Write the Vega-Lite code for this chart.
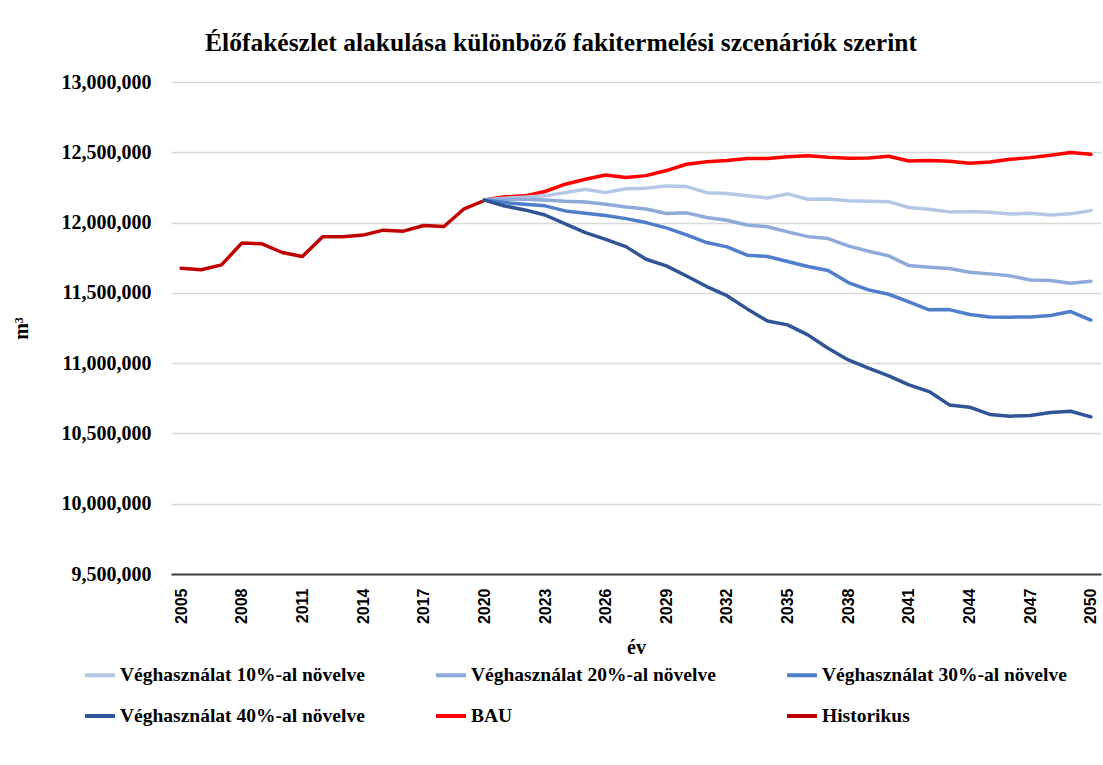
{
  "$schema": "https://vega.github.io/schema/vega-lite/v6.json",
  "autosize": {"type": "none"},
  "width": 930,
  "height": 492,
  "padding": {"left": 171, "top": 82, "right": 2, "bottom": 191},
  "background": "white",
  "title": {
    "text": "Élőfakészlet alakulása különböző fakitermelési szcenáriók szerint",
    "font": "Liberation Serif",
    "fontSize": 25.5,
    "fontWeight": "bold",
    "color": "#000000",
    "anchor": "middle",
    "frame": "group",
    "dx": -75,
    "offset": 16
  },
  "data": {"values": [
    {"year":2005,"series":"Historikus","value":11675000},
    {"year":2006,"series":"Historikus","value":11664000},
    {"year":2007,"series":"Historikus","value":11699000},
    {"year":2008,"series":"Historikus","value":11854000},
    {"year":2009,"series":"Historikus","value":11849000},
    {"year":2010,"series":"Historikus","value":11787000},
    {"year":2011,"series":"Historikus","value":11759000},
    {"year":2012,"series":"Historikus","value":11899000},
    {"year":2013,"series":"Historikus","value":11899000},
    {"year":2014,"series":"Historikus","value":11911000},
    {"year":2015,"series":"Historikus","value":11946000},
    {"year":2016,"series":"Historikus","value":11939000},
    {"year":2017,"series":"Historikus","value":11979000},
    {"year":2018,"series":"Historikus","value":11972000},
    {"year":2019,"series":"Historikus","value":12098000},
    {"year":2020,"series":"Historikus","value":12157000},

    {"year":2020,"series":"BAU","value":12160000},
    {"year":2021,"series":"BAU","value":12183000},
    {"year":2022,"series":"BAU","value":12190000},
    {"year":2023,"series":"BAU","value":12221000},
    {"year":2024,"series":"BAU","value":12273000},
    {"year":2025,"series":"BAU","value":12308000},
    {"year":2026,"series":"BAU","value":12339000},
    {"year":2027,"series":"BAU","value":12320000},
    {"year":2028,"series":"BAU","value":12334000},
    {"year":2029,"series":"BAU","value":12370000},
    {"year":2030,"series":"BAU","value":12415000},
    {"year":2031,"series":"BAU","value":12432000},
    {"year":2032,"series":"BAU","value":12441000},
    {"year":2033,"series":"BAU","value":12455000},
    {"year":2034,"series":"BAU","value":12455000},
    {"year":2035,"series":"BAU","value":12469000},
    {"year":2036,"series":"BAU","value":12476000},
    {"year":2037,"series":"BAU","value":12464000},
    {"year":2038,"series":"BAU","value":12457000},
    {"year":2039,"series":"BAU","value":12460000},
    {"year":2040,"series":"BAU","value":12472000},
    {"year":2041,"series":"BAU","value":12438000},
    {"year":2042,"series":"BAU","value":12441000},
    {"year":2043,"series":"BAU","value":12436000},
    {"year":2044,"series":"BAU","value":12422000},
    {"year":2045,"series":"BAU","value":12431000},
    {"year":2046,"series":"BAU","value":12450000},
    {"year":2047,"series":"BAU","value":12462000},
    {"year":2048,"series":"BAU","value":12479000},
    {"year":2049,"series":"BAU","value":12498000},
    {"year":2050,"series":"BAU","value":12486000},

    {"year":2020,"series":"Véghasználat 10%-al növelve","value":12160000},
    {"year":2021,"series":"Véghasználat 10%-al növelve","value":12173000},
    {"year":2022,"series":"Véghasználat 10%-al növelve","value":12180000},
    {"year":2023,"series":"Véghasználat 10%-al növelve","value":12190000},
    {"year":2024,"series":"Véghasználat 10%-al növelve","value":12213000},
    {"year":2025,"series":"Véghasználat 10%-al növelve","value":12237000},
    {"year":2026,"series":"Véghasználat 10%-al növelve","value":12213000},
    {"year":2027,"series":"Véghasználat 10%-al növelve","value":12240000},
    {"year":2028,"series":"Véghasználat 10%-al növelve","value":12244000},
    {"year":2029,"series":"Véghasználat 10%-al növelve","value":12261000},
    {"year":2030,"series":"Véghasználat 10%-al növelve","value":12256000},
    {"year":2031,"series":"Véghasználat 10%-al növelve","value":12213000},
    {"year":2032,"series":"Véghasználat 10%-al növelve","value":12206000},
    {"year":2033,"series":"Véghasználat 10%-al növelve","value":12190000},
    {"year":2034,"series":"Véghasználat 10%-al növelve","value":12175000},
    {"year":2035,"series":"Véghasználat 10%-al növelve","value":12204000},
    {"year":2036,"series":"Véghasználat 10%-al növelve","value":12166000},
    {"year":2037,"series":"Véghasználat 10%-al növelve","value":12168000},
    {"year":2038,"series":"Véghasználat 10%-al növelve","value":12156000},
    {"year":2039,"series":"Véghasználat 10%-al növelve","value":12152000},
    {"year":2040,"series":"Véghasználat 10%-al növelve","value":12149000},
    {"year":2041,"series":"Véghasználat 10%-al növelve","value":12107000},
    {"year":2042,"series":"Véghasználat 10%-al növelve","value":12095000},
    {"year":2043,"series":"Véghasználat 10%-al növelve","value":12076000},
    {"year":2044,"series":"Véghasználat 10%-al növelve","value":12078000},
    {"year":2045,"series":"Véghasználat 10%-al növelve","value":12073000},
    {"year":2046,"series":"Véghasználat 10%-al növelve","value":12061000},
    {"year":2047,"series":"Véghasználat 10%-al növelve","value":12066000},
    {"year":2048,"series":"Véghasználat 10%-al növelve","value":12054000},
    {"year":2049,"series":"Véghasználat 10%-al növelve","value":12062000},
    {"year":2050,"series":"Véghasználat 10%-al növelve","value":12085000},

    {"year":2020,"series":"Véghasználat 20%-al növelve","value":12160000},
    {"year":2021,"series":"Véghasználat 20%-al növelve","value":12166000},
    {"year":2022,"series":"Véghasználat 20%-al növelve","value":12166000},
    {"year":2023,"series":"Véghasználat 20%-al növelve","value":12161000},
    {"year":2024,"series":"Véghasználat 20%-al növelve","value":12152000},
    {"year":2025,"series":"Véghasználat 20%-al növelve","value":12147000},
    {"year":2026,"series":"Véghasználat 20%-al növelve","value":12130000},
    {"year":2027,"series":"Véghasználat 20%-al növelve","value":12111000},
    {"year":2028,"series":"Véghasználat 20%-al növelve","value":12097000},
    {"year":2029,"series":"Véghasználat 20%-al növelve","value":12064000},
    {"year":2030,"series":"Véghasználat 20%-al növelve","value":12069000},
    {"year":2031,"series":"Véghasználat 20%-al növelve","value":12036000},
    {"year":2032,"series":"Véghasználat 20%-al növelve","value":12017000},
    {"year":2033,"series":"Véghasználat 20%-al növelve","value":11983000},
    {"year":2034,"series":"Véghasználat 20%-al növelve","value":11970000},
    {"year":2035,"series":"Véghasználat 20%-al növelve","value":11934000},
    {"year":2036,"series":"Véghasználat 20%-al növelve","value":11900000},
    {"year":2037,"series":"Véghasználat 20%-al növelve","value":11886000},
    {"year":2038,"series":"Véghasználat 20%-al növelve","value":11834000},
    {"year":2039,"series":"Véghasználat 20%-al növelve","value":11796000},
    {"year":2040,"series":"Véghasználat 20%-al növelve","value":11763000},
    {"year":2041,"series":"Véghasználat 20%-al növelve","value":11694000},
    {"year":2042,"series":"Véghasználat 20%-al növelve","value":11682000},
    {"year":2043,"series":"Véghasználat 20%-al növelve","value":11673000},
    {"year":2044,"series":"Véghasználat 20%-al növelve","value":11647000},
    {"year":2045,"series":"Véghasználat 20%-al növelve","value":11635000},
    {"year":2046,"series":"Véghasználat 20%-al növelve","value":11621000},
    {"year":2047,"series":"Véghasználat 20%-al növelve","value":11592000},
    {"year":2048,"series":"Véghasználat 20%-al növelve","value":11588000},
    {"year":2049,"series":"Véghasználat 20%-al növelve","value":11569000},
    {"year":2050,"series":"Véghasználat 20%-al növelve","value":11583000},

    {"year":2020,"series":"Véghasználat 30%-al növelve","value":12160000},
    {"year":2021,"series":"Véghasználat 30%-al növelve","value":12142000},
    {"year":2022,"series":"Véghasználat 30%-al növelve","value":12130000},
    {"year":2023,"series":"Véghasználat 30%-al növelve","value":12119000},
    {"year":2024,"series":"Véghasználat 30%-al növelve","value":12083000},
    {"year":2025,"series":"Véghasználat 30%-al növelve","value":12066000},
    {"year":2026,"series":"Véghasználat 30%-al növelve","value":12050000},
    {"year":2027,"series":"Véghasználat 30%-al növelve","value":12028000},
    {"year":2028,"series":"Véghasználat 30%-al növelve","value":12000000},
    {"year":2029,"series":"Véghasználat 30%-al növelve","value":11962000},
    {"year":2030,"series":"Véghasználat 30%-al növelve","value":11913000},
    {"year":2031,"series":"Véghasználat 30%-al növelve","value":11858000},
    {"year":2032,"series":"Véghasználat 30%-al növelve","value":11827000},
    {"year":2033,"series":"Véghasználat 30%-al növelve","value":11768000},
    {"year":2034,"series":"Véghasználat 30%-al növelve","value":11759000},
    {"year":2035,"series":"Véghasználat 30%-al növelve","value":11723000},
    {"year":2036,"series":"Véghasználat 30%-al növelve","value":11687000},
    {"year":2037,"series":"Véghasználat 30%-al növelve","value":11659000},
    {"year":2038,"series":"Véghasználat 30%-al növelve","value":11573000},
    {"year":2039,"series":"Véghasználat 30%-al növelve","value":11521000},
    {"year":2040,"series":"Véghasználat 30%-al növelve","value":11490000},
    {"year":2041,"series":"Véghasználat 30%-al növelve","value":11436000},
    {"year":2042,"series":"Véghasználat 30%-al növelve","value":11379000},
    {"year":2043,"series":"Véghasználat 30%-al növelve","value":11381000},
    {"year":2044,"series":"Véghasználat 30%-al növelve","value":11346000},
    {"year":2045,"series":"Véghasználat 30%-al növelve","value":11329000},
    {"year":2046,"series":"Véghasználat 30%-al növelve","value":11327000},
    {"year":2047,"series":"Véghasználat 30%-al növelve","value":11329000},
    {"year":2048,"series":"Véghasználat 30%-al növelve","value":11339000},
    {"year":2049,"series":"Véghasználat 30%-al növelve","value":11367000},
    {"year":2050,"series":"Véghasználat 30%-al növelve","value":11306000},

    {"year":2020,"series":"Véghasználat 40%-al növelve","value":12160000},
    {"year":2021,"series":"Véghasználat 40%-al növelve","value":12118000},
    {"year":2022,"series":"Véghasználat 40%-al növelve","value":12090000},
    {"year":2023,"series":"Véghasználat 40%-al növelve","value":12054000},
    {"year":2024,"series":"Véghasználat 40%-al növelve","value":11991000},
    {"year":2025,"series":"Véghasználat 40%-al növelve","value":11929000},
    {"year":2026,"series":"Véghasználat 40%-al növelve","value":11881000},
    {"year":2027,"series":"Véghasználat 40%-al növelve","value":11829000},
    {"year":2028,"series":"Véghasználat 40%-al növelve","value":11739000},
    {"year":2029,"series":"Véghasználat 40%-al növelve","value":11692000},
    {"year":2030,"series":"Véghasználat 40%-al növelve","value":11620000},
    {"year":2031,"series":"Véghasználat 40%-al növelve","value":11545000},
    {"year":2032,"series":"Véghasználat 40%-al növelve","value":11480000},
    {"year":2033,"series":"Véghasználat 40%-al növelve","value":11386000},
    {"year":2034,"series":"Véghasználat 40%-al növelve","value":11300000},
    {"year":2035,"series":"Véghasználat 40%-al növelve","value":11272000},
    {"year":2036,"series":"Véghasználat 40%-al növelve","value":11201000},
    {"year":2037,"series":"Véghasználat 40%-al növelve","value":11106000},
    {"year":2038,"series":"Véghasználat 40%-al növelve","value":11023000},
    {"year":2039,"series":"Véghasználat 40%-al növelve","value":10964000},
    {"year":2040,"series":"Véghasználat 40%-al növelve","value":10910000},
    {"year":2041,"series":"Véghasználat 40%-al növelve","value":10846000},
    {"year":2042,"series":"Véghasználat 40%-al növelve","value":10798000},
    {"year":2043,"series":"Véghasználat 40%-al növelve","value":10703000},
    {"year":2044,"series":"Véghasználat 40%-al növelve","value":10687000},
    {"year":2045,"series":"Véghasználat 40%-al növelve","value":10635000},
    {"year":2046,"series":"Véghasználat 40%-al növelve","value":10623000},
    {"year":2047,"series":"Véghasználat 40%-al növelve","value":10628000},
    {"year":2048,"series":"Véghasználat 40%-al növelve","value":10649000},
    {"year":2049,"series":"Véghasználat 40%-al növelve","value":10658000},
    {"year":2050,"series":"Véghasználat 40%-al növelve","value":10618000}
  ]},
  "mark": {"type": "line", "strokeWidth": 3.5, "strokeCap": "round", "strokeJoin": "round"},
  "encoding": {
    "x": {
      "field": "year",
      "type": "quantitative",
      "scale": {"domain": [2004.5, 2050.5], "nice": false, "zero": false},
      "axis": {
        "title": "év",
        "values": [2005,2008,2011,2014,2017,2020,2023,2026,2029,2032,2035,2038,2041,2044,2047,2050],
        "format": "d",
        "labelAngle": -90,
        "labelAlign": "right",
        "labelBaseline": "middle",
        "labelFont": "Liberation Sans",
        "labelFontSize": 16,
        "labelFontWeight": "bold",
        "labelColor": "#000000",
        "labelPadding": 14,
        "ticks": false,
        "grid": false,
        "domain": true,
        "domainColor": "#404040",
        "domainWidth": 2,
        "titleFont": "Liberation Serif",
        "titleFontSize": 20,
        "titleFontWeight": "bold",
        "titleColor": "#000000",
        "titlePadding": 14
      }
    },
    "y": {
      "field": "value",
      "type": "quantitative",
      "scale": {"domain": [9500000, 13000000], "nice": false, "zero": false},
      "axis": {
        "title": "m³",
        "values": [9500000,10000000,10500000,11000000,11500000,12000000,12500000,13000000],
        "format": ",d",
        "labelFont": "Liberation Serif",
        "labelFontSize": 20,
        "labelFontWeight": "bold",
        "labelColor": "#000000",
        "labelPadding": 20,
        "ticks": false,
        "domain": false,
        "grid": true,
        "gridColor": "#d9d9d9",
        "gridWidth": 1.5,
        "titleFont": "Liberation Serif",
        "titleFontSize": 20,
        "titleFontWeight": "bold",
        "titleColor": "#000000",
        "titlePadding": 30
      }
    },
    "color": {
      "field": "series",
      "type": "nominal",
      "scale": {
        "domain": ["Véghasználat 10%-al növelve","Véghasználat 20%-al növelve","Véghasználat 30%-al növelve","Véghasználat 40%-al növelve","BAU","Historikus"],
        "range": ["#b4c7e7","#8eaadb","#4f7ecb","#2f5597","#ff0000","#c00000"]
      },
      "legend": {
        "title": null,
        "orient": "none",
        "legendX": -88,
        "legendY": 576,
        "direction": "horizontal",
        "columns": 3,
        "gridAlign": "all",
        "columnPadding": 63,
        "rowPadding": 14,
        "symbolType": "stroke",
        "symbolStrokeWidth": 4,
        "symbolSize": 900,
        "labelFont": "Liberation Serif",
        "labelFontSize": 19.5,
        "labelFontWeight": "bold",
        "labelColor": "#000000",
        "labelOffset": 3,
        "labelLimit": 400
      }
    },
    "order": {"field": "year", "type": "quantitative"}
  },
  "config": {
    "view": {"stroke": null}
  }
}
